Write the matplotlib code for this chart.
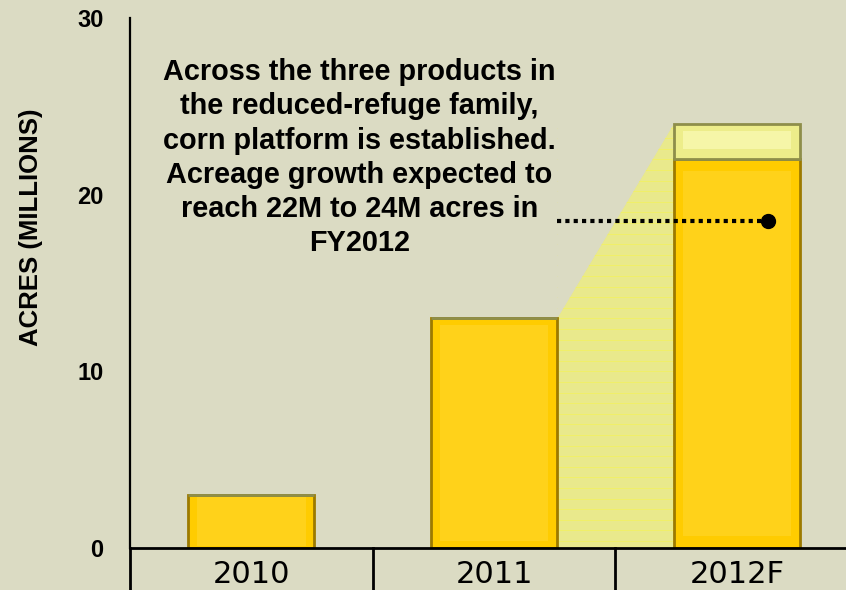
import numpy as np
import matplotlib
matplotlib.use("Agg")
from matplotlib import pyplot as plt
from matplotlib.patches import Polygon

years = ["2010", "2011", "2012F"]
acres = [3, 13, 22]
upper_range = [0, 0, 2]          # 22M -> 24M on the forecast bar
y_ticks = [0, 10, 20, 30]
marker_value = 18.5
note = ("Across the three products in\nthe reduced-refuge family,\n"
        "corn platform is established.\nAcreage growth expected to\n"
        "reach 22M to 24M acres in\nFY2012")

bg = "#DBDBC3"
gold = "#FFCC00"
gold_edge = "#9C7A00"
pale = "#E9E98C"

fig = plt.figure(figsize=(8.46, 5.9), dpi=100, facecolor=bg)
ax = fig.add_axes([0.1537, 0.0712, 0.8463, 0.8983], facecolor=bg)

x = np.arange(len(years))
w = 0.52

# pale wedge joining the 2011 bar to the 2012 range
x0, x1 = x[1] + w / 2, x[2] - w / 2
top = acres[2] + upper_range[2]
ax.add_patch(Polygon([(x0, 0), (x0, acres[1]), (x1, top), (x1, 0)],
                     closed=True, facecolor=pale, edgecolor="none", zorder=1))
for yy in np.arange(0.4, top, 0.6):
    ax.plot([x0, x1], [yy, yy], color="#F4F25A", lw=0.5, zorder=1.5)
# cut off the hatching above the diagonal
ax.add_patch(Polygon([(x0, acres[1]), (x1, top), (x1, 40), (x0, 40)],
                     closed=True, facecolor=bg, edgecolor="none", zorder=1.6))

ax.bar(x, acres, width=w, color=gold, edgecolor=gold_edge, lw=2, zorder=2)
ax.bar(x, [a * 0.94 for a in acres], width=w * 0.86, bottom=[a * 0.03 for a in acres],
       color="#FFD21A", edgecolor="none", zorder=2.1)
ax.bar(x, upper_range, bottom=acres, width=w, color="#EDED8A",
       edgecolor="#8E8E4A", lw=2, zorder=2)
ax.bar(x, [u * 0.5 for u in upper_range], bottom=[a + u * 0.3 for a, u in zip(acres, upper_range)],
       width=w * 0.86, color="#F6F6A8", edgecolor="none", zorder=2.1)

ax.plot([x[1] + 0.26, x[2] + 0.1], [marker_value, marker_value], color="black",
        lw=3, linestyle=(0, (1, 1)), zorder=3)
ax.plot([x[2] + 0.13], [marker_value], "o", color="black", ms=10, zorder=3)

ax.text(0.445, 27.72, note, ha="center", va="top", fontsize=20.8,
        fontweight="bold", family="Liberation Sans", linespacing=1.28, zorder=4)

ax.set_xlim(-0.5, 2.45)
ax.set_ylim(0, 30)
ax.set_yticks(y_ticks)
ax.set_yticklabels([str(t) for t in y_ticks], fontsize=17, fontweight="bold",
                   family="Liberation Sans")
ax.tick_params(axis="y", length=0, pad=19)
ax.set_xticks([])
for s in ["top", "right"]:
    ax.spines[s].set_visible(False)
ax.spines["left"].set_linewidth(1.6)
ax.spines["bottom"].set_linewidth(2)
ax.set_ylabel("ACRES (MILLIONS)", fontsize=18.5, fontweight="bold",
              family="Liberation Sans")
ax.yaxis.set_label_coords(-0.122, 0.606)

# category cells under the axis
for b in [-0.5, 0.5, 1.5]:
    ax.plot([b, b], [0, -2.5], color="black", lw=2, clip_on=False)
for xi, lab in zip(x, years):
    ax.text(xi, -1.5, lab, ha="center", va="center", fontsize=22,
            family="DejaVu Sans")

fig.savefig("out.png", dpi=100, facecolor=bg)
